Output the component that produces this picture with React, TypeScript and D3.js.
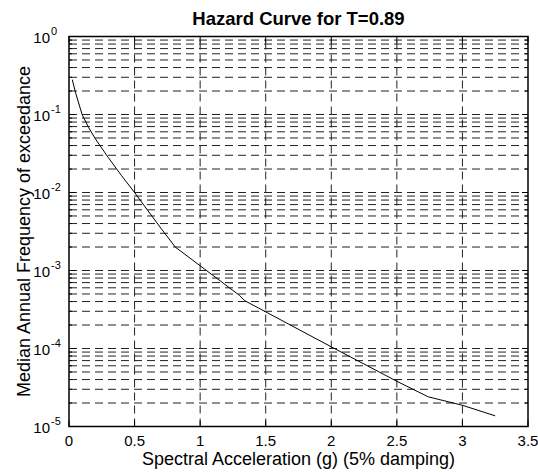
import React, { useRef, useEffect } from "react";
import * as d3 from "d3";

// hazard curve
const accel = [0.025, 0.05, 0.1, 0.15, 0.2, 0.3, 0.4, 0.5, 0.6, 0.7, 0.81, 1.0, 1.3, 1.34, 1.5, 2.0, 2.5, 2.74, 3.0, 3.25];
const freq = [0.28, 0.19, 0.1, 0.068, 0.049, 0.028, 0.0165, 0.01, 0.0059, 0.0035, 0.002, 0.00115, 0.00048, 0.00041, 0.000295, 0.000105, 0.000038, 0.000024, 0.0000187, 0.0000137];

const xTicks = [0, 0.5, 1, 1.5, 2, 2.5, 3, 3.5];
const yExponents = [0, -1, -2, -3, -4, -5];

const App = () => {
  const svgRef = useRef<SVGSVGElement>(null);

  useEffect(() => {
    const w = 538;
    const h = 472;
    const margin = { top: 36.5, right: 10, bottom: 45.5, left: 69 };
    const font = "'Liberation Sans', Arial, sans-serif";

    const svg = d3.select(svgRef.current).attr("width", w).attr("height", h).style("background", "#fff");
    svg.selectAll("*").remove();

    const x = d3.scaleLinear().domain([0, 3.5]).range([margin.left, w - margin.right]);
    const y = d3.scaleLog().domain([1e-5, 1]).range([h - margin.bottom, margin.top]);

    const [x0, x1] = x.range();
    const [y0, y1] = y.range();

    // minor + major log values
    const logVals: number[] = [];
    for (let e = -5; e < 0; e++) {
      for (let m = 1; m < 10; m++) logVals.push(m * Math.pow(10, e));
    }
    logVals.push(1);

    const grid = svg.append("g").attr("stroke", "#222").attr("stroke-width", 1).attr("stroke-dasharray", "8,5");
    grid
      .selectAll("line.h")
      .data(logVals.filter((v) => v > 1e-5 && v < 1))
      .enter()
      .append("line")
      .attr("x1", x0)
      .attr("x2", x1)
      .attr("y1", (d) => y(d))
      .attr("y2", (d) => y(d));
    grid
      .selectAll("line.v")
      .data(xTicks.filter((d) => d > 0 && d < 3.5))
      .enter()
      .append("line")
      .attr("x1", (d) => x(d))
      .attr("x2", (d) => x(d))
      .attr("y1", y0)
      .attr("y2", y1);

    // ticks on all sides, pointing in
    const ticks = svg.append("g").attr("stroke", "#000").attr("stroke-width", 1);
    xTicks.forEach((t) => {
      ticks.append("line").attr("x1", x(t)).attr("x2", x(t)).attr("y1", y0).attr("y2", y0 - 6);
      ticks.append("line").attr("x1", x(t)).attr("x2", x(t)).attr("y1", y1).attr("y2", y1 + 6);
    });
    logVals.forEach((v) => {
      const major = Math.abs(Math.log10(v) - Math.round(Math.log10(v))) < 1e-9;
      const len = major ? 6 : 3;
      ticks.append("line").attr("x1", x0).attr("x2", x0 + len).attr("y1", y(v)).attr("y2", y(v));
      ticks.append("line").attr("x1", x1).attr("x2", x1 - len).attr("y1", y(v)).attr("y2", y(v));
    });

    // curve
    const pts = accel.map((a, i) => [a, freq[i]] as [number, number]);
    svg
      .append("path")
      .datum(pts)
      .attr("fill", "none")
      .attr("stroke", "#000")
      .attr("stroke-width", 1)
      .attr("d", d3.line<[number, number]>().x((d) => x(d[0])).y((d) => y(d[1])));

    // box
    svg
      .append("rect")
      .attr("x", x0)
      .attr("y", y1)
      .attr("width", x1 - x0)
      .attr("height", y0 - y1)
      .attr("fill", "none")
      .attr("stroke", "#000")
      .attr("stroke-width", 1.5);

    // x tick labels
    svg
      .append("g")
      .selectAll("text")
      .data(xTicks)
      .enter()
      .append("text")
      .attr("x", (d) => x(d))
      .attr("y", y0 + 19)
      .attr("text-anchor", "middle")
      .attr("font-family", font)
      .attr("font-size", 15)
      .text((d) => String(d));

    // y tick labels 10^n
    const yl = svg.append("g").attr("font-family", font);
    yExponents.forEach((e) => {
      const t = yl
        .append("text")
        .attr("x", x0 - 19)
        .attr("y", y(Math.pow(10, e)) + 6)
        .attr("text-anchor", "end")
        .attr("font-size", 15)
        .text("10");
      t.append("tspan").attr("x", x0 - 18).attr("dy", -8).attr("font-size", 11).attr("text-anchor", "start").text(String(e));
    });

    // title and labels
    svg
      .append("text")
      .attr("x", (x0 + x1) / 2)
      .attr("y", 25)
      .attr("text-anchor", "middle")
      .attr("font-family", font)
      .attr("font-weight", "bold")
      .attr("font-size", 18.5)
      .text("Hazard Curve for T=0.89");
    svg
      .append("text")
      .attr("x", (x0 + x1) / 2)
      .attr("y", 465)
      .attr("text-anchor", "middle")
      .attr("font-family", font)
      .attr("font-size", 18)
      .text("Spectral Acceleration (g) (5% damping)");
    svg
      .append("text")
      .attr("transform", `translate(30, ${(y0 + y1) / 2}) rotate(-90)`)
      .attr("text-anchor", "middle")
      .attr("font-family", font)
      .attr("font-size", 18)
      .text("Median Annual Frequency of exceedance");
  }, []);

  return (
    <div style={{ position: "absolute", left: 0, top: 0 }}>
      <svg ref={svgRef}></svg>
    </div>
  );
};

export default App;
